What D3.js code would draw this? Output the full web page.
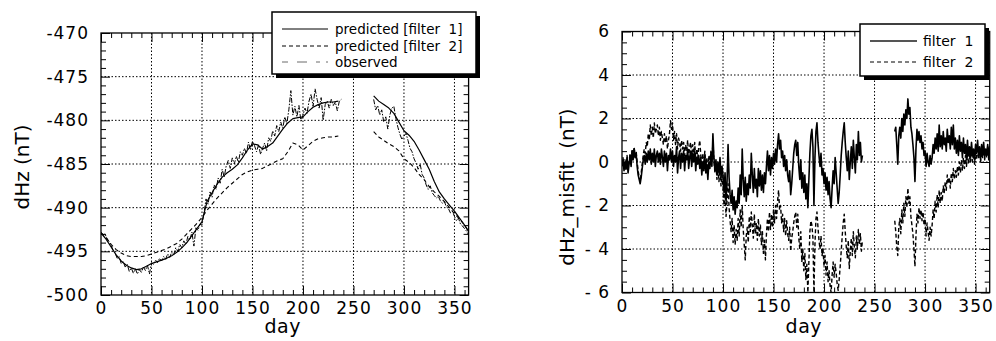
<!DOCTYPE html>
<html><head><meta charset="utf-8">
<script src="https://cdn.jsdelivr.net/npm/d3@7"></script>
<style>body{margin:0;background:#fff}svg{display:block}</style>
</head><body>
<svg id="c" width="996" height="341"></svg>
<script>
// ---------------- DATA ----------------
// x ticks (days)
const dayTicks = [0, 50, 100, 150, 200, 250, 300, 350];
const leftYTicks = [-500, -495, -490, -485, -480, -475, -470];
const rightYTicks = [-6, -4, -2, 0, 2, 4, 6];

// Left panel: predicted filter 1 (every 5 days)
const f1SegAStart = 0, f1SegAStep = 5;
const pred1A = [-492.9,-493.6,-494.5,-495.4,-496.1,-496.6,-496.9,-497.1,-497.0,-496.7,
  -496.4,-496.2,-496.0,-495.8,-495.5,-495.1,-494.6,-494.0,-493.2,-492.4,
  -491.6,-489.3,-488.3,-487.3,-486.5,-486.0,-485.6,-485.1,-484.3,-483.4,
  -482.7,-482.8,-483.3,-483.0,-482.6,-481.8,-481.0,-480.3,-479.8,-479.7,
  -479.6,-479.0,-478.5,-478.2,-478.0,-477.9,-477.9,-477.8];
const f1SegBStart = 270, f1SegBStep = 5;
const pred1B = [-477.2,-477.8,-478.2,-478.6,-479.2,-480.2,-481.2,-481.7,-482.4,-483.4,
  -484.5,-485.6,-487.0,-488.2,-489.0,-489.7,-490.4,-491.2,-492.0,-492.9];

// Left panel: predicted filter 2 (every 5 days)
const pred2A = [-492.9,-493.4,-494.2,-494.8,-495.2,-495.5,-495.6,-495.6,-495.6,-495.5,
  -495.3,-495.1,-494.9,-494.7,-494.4,-494.1,-493.6,-493.0,-492.4,-491.8,
  -491.1,-490.3,-489.6,-488.9,-488.3,-487.7,-487.2,-486.7,-486.2,-485.9,
  -485.7,-485.6,-485.5,-485.2,-484.9,-484.6,-484.4,-483.6,-482.6,-482.8,
  -483.4,-482.9,-482.4,-482.1,-482.0,-481.9,-481.9,-481.8];
const pred2B = [-481.3,-481.9,-482.3,-482.7,-483.0,-483.5,-484.4,-484.8,-485.4,-486.2,
  -486.8,-487.6,-488.2,-488.7,-489.3,-490.0,-490.7,-491.3,-492.0,-492.9];

// Left panel: observed (every 2 days)
const obsAStart = 0, obsBStart = 270, obsStep = 2;
const observedA = [-492.8,-493.1,-493.0,-493.6,-493.9,-494.3,-494.9,-495.2,-495.8,-495.6,
  -496.4,-496.2,-496.8,-496.5,-497.3,-496.9,-497.5,-497.0,-497.6,-497.1,
  -497.4,-496.8,-497.2,-496.6,-497.6,-496.3,-496.5,-496.0,-496.3,-495.8,
  -496.1,-495.6,-495.9,-495.3,-495.7,-495.1,-495.4,-494.6,-495.0,-494.2,
  -494.6,-493.8,-494.2,-493.3,-493.7,-492.8,-494.4,-492.3,-492.6,-491.9,
  -492.0,-490.6,-489.0,-489.6,-488.2,-488.8,-487.4,-487.9,-486.6,-487.2,
  -485.6,-486.5,-485.2,-484.6,-485.5,-484.3,-485.0,-484.1,-484.8,-483.6,
  -484.0,-483.2,-483.8,-482.5,-483.4,-482.4,-482.9,-483.6,-482.8,-483.9,
  -483.2,-482.6,-483.5,-482.0,-482.4,-481.2,-481.8,-480.6,-481.3,-480.2,
  -480.9,-479.6,-480.4,-478.8,-476.6,-479.4,-478.4,-479.6,-478.3,-480.1,
  -479.4,-478.6,-479.2,-477.8,-477.0,-478.4,-476.4,-477.6,-478.6,-477.4,
  -480.0,-478.2,-477.8,-478.6,-477.6,-478.3,-477.9,-478.9,-477.8,-477.6];
const observedB = [-477.6,-478.8,-478.3,-479.4,-478.8,-480.2,-479.6,-481.0,-479.4,-478.6,
  -478.4,-479.8,-480.8,-481.6,-482.2,-481.8,-481.5,-482.3,-483.2,-483.6,
  -484.4,-484.9,-485.6,-485.0,-486.2,-486.6,-487.4,-487.9,-487.5,-488.3,
  -488.6,-488.9,-488.7,-489.2,-489.5,-489.3,-489.9,-490.1,-490.6,-490.4,
  -491.0,-491.5,-491.2,-491.9,-492.1,-492.4,-492.7,-493.1];

// Right panel: misfit, daily
const misAStart = 0, misBStart = 270, misStep = 1;
const misfit1A = [-0.2,0.1,-0.4,0.0,-0.3,0.2,-0.5,-0.1,0.3,-0.2,
  0.5,0.1,0.6,0.2,0.4,-0.2,-0.6,-0.8,-1.0,-0.7,
  -0.3,0.1,0.3,-0.1,0.4,0.0,0.5,0.1,0.6,-0.1,
  0.4,0.0,0.6,-0.2,0.3,0.5,0.0,0.4,-0.1,0.6,
  0.2,-0.2,0.5,0.0,0.4,-0.4,0.3,0.1,0.6,0.0,
  0.5,-0.2,0.3,0.0,0.7,-0.5,0.2,0.5,-0.3,0.4,
  0.0,0.5,-0.4,0.3,0.1,0.6,-0.3,0.2,0.5,-0.2,
  0.4,0.0,0.5,-0.4,0.2,-0.1,0.3,-0.3,0.2,-0.6,
  0.0,-0.4,0.3,-0.5,-0.1,-0.8,0.0,-0.3,0.4,-0.2,
  1.3,0.2,-0.4,0.1,-0.6,0.0,-0.5,0.2,-0.7,-0.2,
  -0.6,-1.4,-0.5,-1.8,-0.9,0.8,-0.7,-1.5,-1.9,-1.3,
  -2.2,-1.6,-2.4,-1.8,-2.1,-1.2,-1.9,-0.6,-1.5,0.6,
  -0.8,-1.6,-0.7,-1.8,-1.0,-1.5,-0.6,-1.2,0.4,-0.6,
  -1.4,-0.3,-1.2,-0.8,-1.6,-0.3,-1.1,-0.4,-1.3,-0.6,
  -1.4,-0.5,-1.0,-0.2,0.5,-0.4,0.3,-0.6,0.2,-0.3,
  0.4,-0.1,0.6,0.0,0.8,1.3,0.6,1.0,0.2,0.5,
  -0.2,0.3,-0.4,0.1,-0.6,-0.9,-0.4,-1.5,-1.0,-0.3,
  0.4,0.8,1.0,0.3,0.9,-0.2,-0.8,0.1,-1.2,-0.5,
  -1.4,-0.6,-1.7,-1.0,-2.1,-0.8,0.4,1.2,1.5,0.7,
  -2.0,0.2,1.4,1.8,0.9,0.3,-0.2,0.4,-0.6,-0.3,
  -1.0,-0.5,-1.3,-0.7,-1.5,-0.9,-1.7,-2.1,-1.2,-0.4,
  -1.0,0.2,-0.5,-1.2,-1.9,-1.4,-0.6,0.3,0.9,1.4,
  1.8,0.9,0.2,-0.4,0.5,-0.8,0.0,0.7,-0.3,1.0,
  0.2,-0.5,0.8,0.1,1.4,0.3,0.9,0.0,0.3];
const misfit1B = [1.4,1.6,0.8,-0.1,1.2,1.6,1.1,2.0,1.4,2.2,
  1.7,2.4,2.0,2.9,2.2,2.5,1.6,1.3,0.8,0.2,
  -0.9,0.6,1.5,1.0,1.4,0.9,1.2,0.6,0.9,0.3,
  0.5,-0.2,0.4,0.0,-0.2,0.3,-0.1,0.2,0.8,0.4,
  1.1,0.6,1.3,0.5,1.7,0.7,1.2,0.6,1.4,0.8,
  1.1,0.5,1.5,0.9,1.2,0.6,1.6,0.8,1.7,0.6,
  1.1,0.4,1.0,0.3,1.2,0.5,0.9,0.2,1.1,0.4,
  0.8,0.1,1.0,0.3,0.7,0.2,0.9,0.3,0.6,0.1,
  0.8,0.4,1.0,0.3,0.7,0.1,0.8,0.3,0.9,0.2,
  0.6,0.3,0.8,0.2,0.7,0.4];
const misfit2A = [-0.1,0.2,-0.3,0.1,-0.4,0.3,-0.2,0.0,0.4,-0.1,
  0.6,0.2,0.7,0.3,0.5,0.0,-0.4,-0.7,-0.9,-0.5,
  -0.1,0.3,0.6,0.4,0.9,0.7,1.3,1.0,1.7,1.2,
  1.6,1.1,1.8,1.3,1.5,1.7,1.2,1.6,1.0,1.4,
  1.1,0.8,1.3,0.9,1.2,0.6,1.0,1.3,1.9,1.5,
  1.8,1.0,1.4,0.8,1.3,0.6,1.1,0.9,0.5,1.0,
  0.6,0.9,0.3,0.8,0.5,1.0,0.2,0.7,0.9,0.3,
  0.8,0.4,0.9,0.1,0.6,0.2,0.7,1.0,0.3,-0.2,
  0.4,-0.1,0.5,-0.3,0.2,-0.5,0.3,-0.1,0.5,0.0,
  0.9,0.1,-0.5,-0.1,-0.8,-0.3,-0.9,-0.2,-1.1,-0.6,
  -1.2,-2.0,-1.3,-2.5,-1.8,-1.0,-2.1,-2.7,-3.2,-2.6,
  -3.7,-2.9,-3.8,-3.1,-3.6,-2.6,-3.4,-2.2,-3.0,-2.0,
  -3.1,-3.8,-4.5,-3.4,-3.0,-3.7,-2.5,-3.2,-2.3,-2.9,
  -3.5,-2.4,-3.3,-2.8,-3.6,-2.6,-3.4,-2.9,-3.8,-3.2,
  -4.2,-3.6,-4.5,-3.3,-2.6,-3.2,-2.3,-3.1,-2.4,-3.0,
  -2.2,-2.8,-2.0,-2.6,-1.8,-1.3,-2.2,-2.0,-2.8,-2.4,
  -3.2,-2.6,-3.4,-2.7,-3.3,-3.6,-3.0,-4.1,-3.5,-3.2,
  -2.8,-2.5,-2.3,-3.0,-2.4,-3.5,-4.0,-3.2,-4.6,-4.0,
  -5.0,-4.2,-5.4,-4.7,-6.0,-4.6,-3.2,-2.7,-2.9,-3.5,
  -6.0,-3.8,-2.6,-2.3,-3.0,-3.6,-4.0,-3.4,-4.3,-4.0,
  -4.8,-4.3,-5.2,-4.6,-5.5,-5.0,-5.7,-6.0,-5.2,-4.6,
  -5.3,-4.7,-5.1,-5.6,-5.9,-5.4,-4.8,-4.1,-3.4,-2.8,
  -2.4,-3.2,-3.9,-4.4,-3.6,-4.9,-4.1,-3.5,-4.3,-3.2,
  -3.9,-4.4,-3.4,-4.0,-3.1,-3.8,-3.3,-4.1,-3.6];
const misfit2B = [-2.7,-3.2,-3.9,-4.3,-3.0,-2.6,-3.3,-2.2,-2.8,-1.9,
  -2.5,-1.6,-2.1,-1.2,-1.9,-1.6,-2.5,-2.9,-3.3,-4.0,
  -4.8,-3.4,-2.4,-2.8,-2.1,-2.6,-2.2,-2.7,-2.3,-2.9,
  -2.6,-3.4,-2.8,-3.2,-3.6,-3.0,-3.4,-2.9,-2.2,-2.6,
  -1.8,-2.3,-1.5,-2.1,-1.3,-1.9,-1.4,-1.8,-1.1,-1.4,
  -0.9,-1.3,-0.6,-1.0,-0.7,-1.2,-0.5,-0.9,-0.3,-0.8,
  -0.4,-0.7,-0.2,-0.6,0.0,-0.5,0.1,-0.4,0.2,-0.3,
  0.3,-0.2,0.4,-0.1,0.3,0.0,0.5,0.0,0.4,-0.1,
  0.5,0.1,0.7,0.2,0.5,0.0,0.6,0.2,0.7,0.1,
  0.5,0.2,0.7,0.1,0.6,0.3];

// ---------------- DRAWING ----------------
const FONT = "'DejaVu Sans', Verdana, sans-serif";
const svg = d3.select('#c');

function seg(start, step, vals) { return vals.map((v, i) => ({day: start + i * step, v})); }

function panel(o) {
  const g = svg.append('g');
  const x = d3.scaleLinear().domain([0, 364]).range([o.x0, o.x1]);
  const y = d3.scaleLinear().domain(o.ydom).range([o.y1, o.y0]);
  const clipId = 'clip' + o.id;
  svg.append('clipPath').attr('id', clipId).append('rect')
    .attr('x', o.x0).attr('y', o.y0).attr('width', o.x1 - o.x0).attr('height', o.y1 - o.y0);

  // grid
  const gridX = dayTicks.filter(d => d > 0);
  const gridY = o.yticks.filter(d => d > o.ydom[0] && d < o.ydom[1]);
  g.append('g').selectAll('line').data(gridX).join('line')
    .attr('x1', d => x(d)).attr('x2', d => x(d)).attr('y1', o.y0).attr('y2', o.y1)
    .attr('stroke', '#000').attr('stroke-width', 1).attr('stroke-dasharray', '1.5,2');
  g.append('g').selectAll('line').data(gridY).join('line')
    .attr('y1', d => y(d)).attr('y2', d => y(d)).attr('x1', o.x0).attr('x2', o.x1)
    .attr('stroke', '#000').attr('stroke-width', 1).attr('stroke-dasharray', '1.5,2');

  // minor ticks
  const xMinor = d3.range(0, 365, 10).filter(d => d % 50 !== 0);
  const yMinor = d3.range(o.ydom[0], o.ydom[1] + 1e-9, o.yminor).filter(d => !o.yticks.some(t => Math.abs(t - d) < 1e-6));
  const axes = [
    [d3.axisBottom(x).tickValues(xMinor), `translate(0,${o.y1})`],
    [d3.axisTop(x).tickValues(xMinor), `translate(0,${o.y0})`],
    [d3.axisLeft(y).tickValues(yMinor), `translate(${o.x0},0)`],
    [d3.axisRight(y).tickValues(yMinor), `translate(${o.x1},0)`]
  ];
  axes.forEach(([ax, tr]) => {
    const a = g.append('g').attr('transform', tr).call(ax.tickSize(-5).tickFormat(''));
    a.select('.domain').remove();
    a.selectAll('line').attr('stroke', '#000');
  });
  // major ticks (unlabeled on top/right)
  [[d3.axisTop(x).tickValues(dayTicks), `translate(0,${o.y0})`],
   [d3.axisRight(y).tickValues(o.yticks), `translate(${o.x1},0)`]].forEach(([ax, tr]) => {
    const a = g.append('g').attr('transform', tr).call(ax.tickSize(-9).tickFormat(''));
    a.select('.domain').remove();
    a.selectAll('line').attr('stroke', '#000');
  });
  // labeled axes
  const xa = g.append('g').attr('transform', `translate(0,${o.y1})`)
    .call(d3.axisBottom(x).tickValues(dayTicks).tickSize(-9).tickPadding(7).tickFormat(d => String(d)));
  const ya = g.append('g').attr('transform', `translate(${o.x0},0)`)
    .call(d3.axisLeft(y).tickValues(o.yticks).tickSize(-9).tickPadding(12).tickFormat(o.yfmt));
  [xa, ya].forEach(a => {
    a.select('.domain').remove();
    a.selectAll('line').attr('stroke', '#000');
    a.selectAll('text').attr('font-family', FONT).attr('font-size', 17)
      .attr('letter-spacing', 1).attr('fill', '#000');
  });

  // series
  const line = d3.line().x(d => x(d.day)).y(d => y(d.v));
  const sg = g.append('g').attr('clip-path', `url(#${clipId})`);
  o.series.forEach(s => {
    s.segs.forEach(pts => {
      sg.append('path').attr('d', line(pts)).attr('fill', 'none')
        .attr('stroke', s.color).attr('stroke-width', s.width)
        .attr('stroke-dasharray', s.dash || null).attr('stroke-linejoin', 'round');
    });
  });

  // frame
  g.append('rect').attr('x', o.x0).attr('y', o.y0).attr('width', o.x1 - o.x0).attr('height', o.y1 - o.y0)
    .attr('fill', 'none').attr('stroke', '#000').attr('stroke-width', 1.3);

  // axis titles
  g.append('text').attr('x', (o.x0 + o.x1) / 2 - 2).attr('y', 333).attr('text-anchor', 'middle')
    .attr('font-family', FONT).attr('font-size', 19).attr('letter-spacing', 0.5).text('day');
  g.append('text').attr('transform', `translate(${o.ylx},${o.yly}) rotate(-90)`)
    .attr('text-anchor', 'middle').attr('dy', '0.35em')
    .attr('font-family', FONT).attr('font-size', 20)
    .style('white-space', 'pre').text(o.ylabel);

  // legend
  const L = o.legend;
  const lg = g.append('g');
  lg.append('rect').attr('x', L.x + 4).attr('y', L.y + 4).attr('width', L.w).attr('height', L.h).attr('fill', '#000');
  lg.append('rect').attr('x', L.x).attr('y', L.y).attr('width', L.w).attr('height', L.h)
    .attr('fill', '#fff').attr('stroke', '#000').attr('stroke-width', 1.5);
  L.items.forEach((it, i) => {
    const yy = L.rows[i];
    lg.append('line').attr('x1', L.lx0).attr('x2', L.lx1).attr('y1', yy).attr('y2', yy)
      .attr('stroke', it.color).attr('stroke-width', it.width).attr('stroke-dasharray', it.dash || null);
    lg.append('text').attr('x', L.tx).attr('y', yy).attr('dy', '0.35em')
      .attr('font-family', FONT).attr('font-size', L.fs)
      .style('white-space', 'pre').text(it.label);
  });
}

panel({
  id: 'L', x0: 101, x1: 468.6, y0: 33, y1: 295,
  ydom: [-500, -470], yticks: leftYTicks, yminor: 1, yfmt: d => String(d),
  ylabel: 'dHz (nT)', ylx: 22, yly: 167,
  series: [
    {segs: [seg(obsAStart, obsStep, observedA), seg(obsBStart, obsStep, observedB)], color: '#000', width: 1, dash: '5,1.5,1.5,1.5'},
    {segs: [seg(f1SegAStart, f1SegAStep, pred2A), seg(f1SegBStart, f1SegBStep, pred2B)], color: '#000', width: 1.1, dash: '4,3'},
    {segs: [seg(f1SegAStart, f1SegAStep, pred1A), seg(f1SegBStart, f1SegBStep, pred1B)], color: '#000', width: 1.2}
  ],
  legend: {x: 272, y: 12, w: 204, h: 62, lx0: 282, lx1: 328, tx: 335, rows: [29, 46, 62], fs: 13.5,
    items: [
      {label: 'predicted [filter  1]', color: '#000', width: 1},
      {label: 'predicted [filter  2]', color: '#000', width: 1, dash: '4,3'},
      {label: 'observed', color: '#444', width: 0.8, dash: '6,9,10,9,4'}
    ]}
});

panel({
  id: 'R', x0: 622, x1: 989.7, y0: 31.5, y1: 292.5,
  ydom: [-6, 6], yticks: rightYTicks, yminor: 0.5, yfmt: d => d < 0 ? '- ' + (-d) : String(d),
  ylabel: 'dHz_misfit  (nT)', ylx: 567, yly: 187,
  series: [
    {segs: [seg(misAStart, misStep, misfit2A), seg(misBStart, misStep, misfit2B)], color: '#000', width: 1.4, dash: '4,2.5'},
    {segs: [seg(misAStart, misStep, misfit1A), seg(misBStart, misStep, misfit1B)], color: '#000', width: 1.6}
  ],
  legend: {x: 860, y: 24, w: 125, h: 52, lx0: 870, lx1: 917, tx: 923, rows: [41, 62], fs: 14,
    items: [
      {label: 'filter  1', color: '#555', width: 1.8},
      {label: 'filter  2', color: '#000', width: 1, dash: '4,3'}
    ]}
});
</script>
</body></html>
